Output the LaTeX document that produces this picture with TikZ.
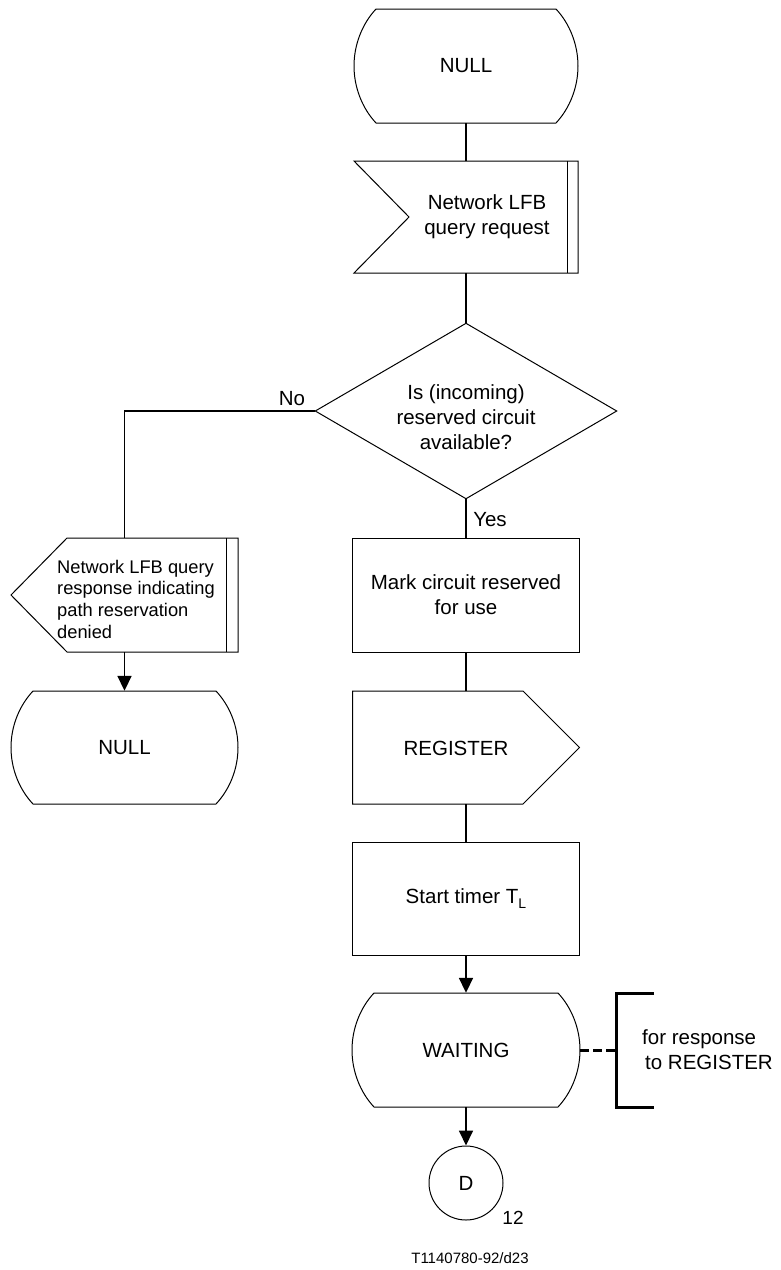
\documentclass[tikz,border=0pt]{standalone}
\usepackage{fontspec}
\setmainfont{Liberation Sans}
\usetikzlibrary{arrows.meta}
\newcommand\stpath[4]{%
 \draw[shp] ({#1+22},#2) -- ({#3-22},#2)
   .. controls ({#3-8},{#2+15}) and (#3,{(#2+#4)/2-21}) .. (#3,{(#2+#4)/2})
   .. controls (#3,{(#2+#4)/2+21}) and ({#3-8},{#4-15}) .. ({#3-22},#4)
   -- ({#1+22},#4)
   .. controls ({#1+8},{#4-15}) and (#1,{(#2+#4)/2+21}) .. (#1,{(#2+#4)/2})
   .. controls (#1,{(#2+#4)/2-21}) and ({#1+8},{#2+15}) .. ({#1+22},#2) -- cycle;}
\begin{document}
\begin{tikzpicture}[x=1pt,y=-1pt,
  shp/.style={line width=1pt},
  conn/.style={line width=1.8pt},
  arr/.style={conn,-{Triangle[length=15pt,width=14pt]}},
  box/.style={draw=none,inner sep=0pt,rectangle},
  txt/.style={inner sep=0pt,font=\fontsize{20.5}{25}\selectfont,align=center},
  smtxt/.style={inner sep=0pt,font=\fontsize{18.3}{21.7}\selectfont,align=left},
]
\useasboundingbox (0,0) rectangle (780,1270);

% top NULL state
\stpath{354}{9}{578}{123}
\node[box,txt,minimum width=224pt,minimum height=114pt] (null1) at (466,66) {NULL};

% input signal
\draw[shp] (354,161) -- (578,161) -- (578,273) -- (354,273) -- (409,217) -- cycle;
\draw[shp] (567,161) -- (567,273);
\node[box,minimum width=224pt,minimum height=112pt] (req) at (466,217) {};
\node[txt] (reqt) at (487,217) {Network LFB\\query request};

% decision
\node[box,minimum width=301pt,minimum height=175pt] (dia) at (466,411) {};
\draw[shp] (dia.north) -- (dia.east) -- (dia.south) -- (dia.west) -- cycle;
\node[txt] (diat) at (466,417) {Is (incoming)\\reserved circuit\\available?};
\node[txt] (no) at (292,399) {No};
\node[txt] (yes) at (490,520) {Yes};

% left output signal
\draw[shp] (67,538) -- (238,538) -- (238,652) -- (67,652) -- (11,595) -- cycle;
\draw[shp] (226,538) -- (226,652);
\node[box,minimum width=227pt,minimum height=114pt] (resp) at (124.5,595) {};
\node[smtxt,anchor=west] (respt) at (57,599) {Network LFB query\\response indicating\\path reservation\\denied};

% left NULL state
\stpath{11}{691}{238}{804}
\node[box,txt,minimum width=227pt,minimum height=113pt] (null2) at (124.5,747.5) {NULL};

% mark task
\node[box,draw,shp,txt,minimum width=227pt,minimum height=114pt] (mark) at (466,595) {Mark circuit reserved\\for use};

% REGISTER output
\draw[shp] (352.5,691) -- (523,691) -- (579.5,747.5) -- (523,804) -- (352.5,804) -- cycle;
\node[box,minimum width=227pt,minimum height=113pt] (reg) at (466,747.5) {};
\node[txt] (regt) at (456,748) {REGISTER};

% timer task
\node[box,draw,shp,txt,minimum width=227pt,minimum height=113pt] (timer) at (466,898.5) {Start timer T\raisebox{-5pt}{\fontsize{14}{14}\selectfont L}};

% WAITING state
\stpath{352}{993}{580}{1107}
\node[box,txt,minimum width=228pt,minimum height=114pt] (wait) at (466,1050) {WAITING};

% comment bracket
\draw[line width=3pt] (654,993) -- (616,993) -- (616,1107) -- (654,1107);
\coordinate (brk) at (616,1050);
\draw[line width=3pt,dash pattern=on 9pt off 4pt] (wait.east) -- (brk);
\node[txt,align=left,anchor=west] (brt) at (642,1050) {for response\\\hspace*{3pt}to REGISTER};

% connector D
\node[circle,draw,shp,minimum size=74pt,txt] (D) at (466,1183) {D};
\node[inner sep=0pt,font=\fontsize{19}{19}\selectfont] (pg) at (513,1218) {12};
\node[inner sep=0pt,font=\fontsize{15}{15}\selectfont] (cap) at (470,1258) {T1140780-92/d23};

% connectors
\draw[conn] (null1.south) -- (req.north);
\draw[conn] (req.south) -- (dia.north);
\draw[conn] (dia.west) -| (resp.north);
\draw[arr] (resp.south) -- (null2.north);
\draw[conn] (dia.south) -- (mark.north);
\draw[conn] (mark.south) -- (reg.north);
\draw[conn] (reg.south) -- (timer.north);
\draw[arr] (timer.south) -- (wait.north);
\draw[arr] (wait.south) -- (D.north);
\end{tikzpicture}
\end{document}
